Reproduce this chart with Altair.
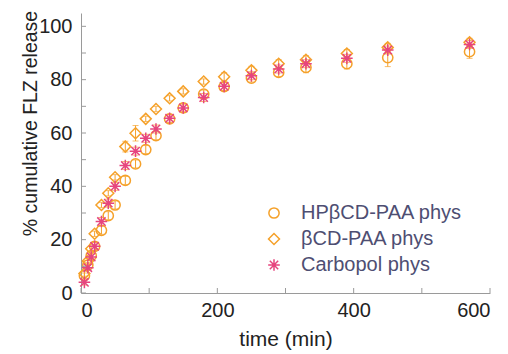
import altair as alt
import pandas as pd

# ---- data ----
times = [5, 10, 15, 20, 30, 40, 50, 65, 80, 95, 110, 130, 150, 180, 210, 250, 290, 330, 390, 450, 570]

hp_vals = [6.5, 10.5, 14, 17.5, 23.5, 29, 33, 42.2, 48.4, 53.8, 59, 65.3, 69.4, 74.6, 77.4, 80.6, 82.7, 84.6, 86, 88.3, 90.5]
hp_err = [1, 1, 1, 1.5, 1.5, 1.5, 1.5, 1.5, 1.5, 1.5, 1.5, 1.5, 1.5, 1.5, 1.5, 1.5, 1.5, 2, 2, 3.4, 2.5]

b_vals = [7.3, 12, 16.6, 22.2, 33, 37.4, 43.4, 54.9, 59.9, 65.3, 69, 73, 75.6, 79.3, 81.1, 83.5, 86, 87.5, 89.8, 92.1, 94]
b_err = [1, 1, 1, 1, 1, 1, 1, 2, 2.9, 1, 1, 1, 1, 1, 1.5, 1.5, 1.5, 1.5, 1.5, 1.5, 1.5]

c_vals = [4, 9.5, 13.5, 17.5, 26.8, 33.7, 40, 47.8, 53.2, 58, 61.5, 65.5, 69.4, 73.3, 77.5, 81.5, 84, 86, 88, 91.1, 93.2]
c_err = [1, 1, 1, 1.5, 1.5, 1.5, 1.5, 1.5, 1.5, 1.5, 1.5, 1.5, 1.5, 1.5, 1.5, 1.5, 1.5, 1.5, 1.5, 1.5, 1.5]

series_names = ["HPβCD-PAA phys", "βCD-PAA phys", "Carbopol phys"]
series_colors = ["#F5A12A", "#F5A12A", "#E6457E"]
err_color = "#F5A12A"
asterisk = "M-1,0L1,0M0,-1L0,1M-0.72,-0.72L0.72,0.72M-0.72,0.72L0.72,-0.72"
series_shapes = ["circle", "diamond", asterisk]

x_ticks = [0, 100, 200, 300, 400, 500, 600]
x_labels = [0, 200, 400, 600]
y_ticks = [0, 10, 20, 30, 40, 50, 60, 70, 80, 90, 100]
y_labels = [0, 20, 40, 60, 80, 100]

rows = []
for name, vals, errs in zip(series_names, [hp_vals, b_vals, c_vals], [hp_err, b_err, c_err]):
    for t, v, e in zip(times, vals, errs):
        rows.append({"series": name, "time": t, "val": v, "err": e, "lo": v - e, "hi": v + e})
df = pd.DataFrame(rows)

W, H = 409, 280
FONT = "Liberation Sans"

xscale = alt.Scale(domain=[0, 600], nice=False, zero=False)
yscale = alt.Scale(domain=[0, 105], nice=False)

xaxis = alt.Axis(values=x_labels, ticks=False, grid=False, labelFontSize=20, labelPadding=7,
                 title="time (min)", titleFontSize=21, titleFontWeight="normal", titlePadding=8,
                 domainColor="#9a9a9a", labelColor="#222222", titleColor="#222222",
                 labelFont=FONT, titleFont=FONT)
yaxis = alt.Axis(values=y_labels, ticks=False, grid=False, labelFontSize=20, labelPadding=9,
                 title="% cumulative FLZ release", titleFontSize=19.5, titleFontWeight="normal",
                 titlePadding=-2, titleY=110, domainColor="#9a9a9a", labelColor="#222222",
                 titleColor="#222222", labelFont=FONT, titleFont=FONT)

color_scale = alt.Scale(domain=series_names, range=series_colors)
shape_scale = alt.Scale(domain=series_names, range=series_shapes)

base = alt.Chart(df)

errbars = base.mark_rule(strokeWidth=1, color=err_color).encode(
    x=alt.X("time:Q", scale=xscale, axis=xaxis),
    y=alt.Y("lo:Q", scale=yscale, axis=yaxis),
    y2="hi:Q",
)
caps_lo = base.mark_tick(size=6, thickness=1, orient="horizontal", color=err_color).encode(
    x="time:Q", y="lo:Q",
)
caps_hi = base.mark_tick(size=6, thickness=1, orient="horizontal", color=err_color).encode(
    x="time:Q", y="hi:Q",
)

legend = alt.Legend(title=None, orient="none", legendX=183, legendY=190,
                    labelFontSize=20, labelFont=FONT, labelColor="#4E4E72", labelLimit=400,
                    symbolSize=65, symbolStrokeWidth=1.5, rowPadding=6, labelOffset=17,
                    padding=0)

points = base.mark_point(filled=False, strokeWidth=1.5, opacity=1).encode(
    x="time:Q",
    y="val:Q",
    color=alt.Color("series:N", scale=color_scale, legend=legend),
    shape=alt.Shape("series:N", scale=shape_scale, legend=legend),
    size=alt.Size("series:N", scale=alt.Scale(domain=series_names, range=[105, 135, 85]), legend=None),
)

xt = pd.DataFrame({"v": x_ticks})
yt = pd.DataFrame({"v": y_ticks})
xtick_layer = alt.Chart(xt).mark_rule(color="#9a9a9a", strokeWidth=1).encode(
    x=alt.X("v:Q", scale=xscale), y=alt.value(H), y2=alt.value(H - 5)
)
ytick_layer = alt.Chart(yt).mark_rule(color="#9a9a9a", strokeWidth=1).encode(
    y=alt.Y("v:Q", scale=yscale), x=alt.value(0), x2=alt.value(5)
)

chart = alt.layer(errbars, caps_lo, caps_hi, points, xtick_layer, ytick_layer).properties(
    width=W, height=H,
    autosize=alt.AutoSizeParams(type="none"),
    padding={"left": 73, "top": 5, "right": 10, "bottom": 60},
).configure(background="white", view=alt.ViewConfig(stroke=None))

chart.save("out.html", embed_options={"renderer": "svg", "actions": False})
